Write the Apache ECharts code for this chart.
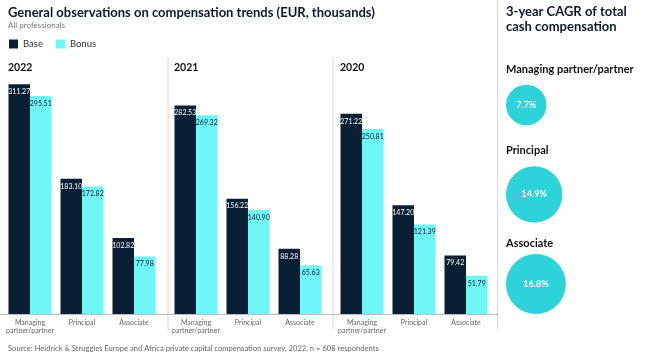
<!DOCTYPE html>
<html><head><meta charset="utf-8">
<script src="https://cdn.jsdelivr.net/npm/echarts@6/dist/echarts.min.js"></script>
<style>html,body{margin:0;padding:0;background:#fff}#c{width:650px;height:359px}</style>
</head><body><div id="c"></div>
<script>
const categories = ['Managing\npartner/partner', 'Principal', 'Associate'];
const years = ['2022', '2021', '2020'];
const base2022 = [311.27, 183.10, 102.82];
const bonus2022 = [295.51, 172.82, 77.98];
const base2021 = [282.53, 156.22, 88.28];
const bonus2021 = [269.32, 140.90, 65.63];
const base2020 = [271.22, 147.20, 79.42];
const bonus2020 = [250.81, 121.39, 51.79];
const cagrRoles = ['Managing partner/partner', 'Principal', 'Associate'];
const cagrValues = [7.7, 14.9, 16.8];

const baseSets = [base2022, base2021, base2020];
const bonusSets = [bonus2022, bonus2021, bonus2020];
const NAVY = '#0a1f33', CYAN = '#6ff6f6', TEAL = '#2dd3d9';
const FONT = 'Lato, "Open Sans", sans-serif';
const gridLefts = [4, 170, 336];

const grids = [], xAxes = [], yAxes = [], series = [];
years.forEach((y, i) => {
  grids.push({left: gridLefts[i], width: 156, top: 55.7, bottom: 45});
  xAxes.push({type: 'category', gridIndex: i, data: categories,
    axisLine: {show: false}, axisTick: {show: false},
    axisLabel: {fontSize: 7, color: '#666', fontFamily: FONT, lineHeight: 7.5, margin: 5, interval: 0}});
  yAxes.push({type: 'value', gridIndex: i, min: 0, max: 350, show: false, splitLine: {show: false}});
  series.push({type: 'bar', name: 'Base', xAxisIndex: i, yAxisIndex: i, data: baseSets[i],
    barWidth: 21.5, barGap: '0%', itemStyle: {color: NAVY},
    label: {show: true, position: 'insideTop', distance: 4, fontSize: 7, color: '#fff', fontFamily: FONT,
      formatter: p => p.value.toFixed(2)}});
  series.push({type: 'bar', name: 'Bonus', xAxisIndex: i, yAxisIndex: i, data: bonusSets[i],
    barWidth: 21.5, barGap: '0%', itemStyle: {color: CYAN},
    label: {show: true, position: 'insideTop', distance: 4, fontSize: 7, color: NAVY, fontFamily: FONT,
      formatter: p => p.value.toFixed(2)}});
});

// CAGR bubbles (area proportional)
grids.push({left: 506, width: 120, top: 60.25, bottom: 30.25});
xAxes.push({type: 'value', gridIndex: 3, min: 0, max: 100, show: false});
yAxes.push({type: 'category', gridIndex: 3, data: cagrRoles, inverse: true, show: false});
series.push({type: 'scatter', xAxisIndex: 3, yAxisIndex: 3, silent: true,
  data: cagrValues.map((v, i) => {
    const s = 2 * 7.3 * Math.sqrt(v);
    return {value: [0, i], cagr: v, symbolSize: s, symbolOffset: [s / 2, 0]};
  }),
  itemStyle: {color: TEAL, opacity: 1},
  label: {show: true, position: 'inside', color: '#fff', fontWeight: 'bold', fontSize: 9, fontFamily: FONT,
    formatter: p => p.data.cagr.toFixed(1) + '%'}
});

const graphic = [];
[168, 333].forEach(x => graphic.push({type: 'line', shape: {x1: x, y1: 58, x2: x, y2: 330}, style: {stroke: '#d6d6d6', lineWidth: 1}}));
graphic.push({type: 'line', shape: {x1: 497.5, y1: 0, x2: 497.5, y2: 329}, style: {stroke: '#d6d6d6', lineWidth: 1}});
graphic.push({type: 'line', shape: {x1: 0, y1: 314.5, x2: 498, y2: 314.5}, style: {stroke: '#bdbdbd', lineWidth: 1}, z: 10});
years.forEach((y, i) => graphic.push({type: 'text', left: gridLefts[i] + 4, top: 62,
  style: {text: y, font: 'bold 10.5px ' + FONT, fill: '#111'}}));
const headY = [64, 145, 238];
cagrRoles.forEach((r, i) => graphic.push({type: 'text', left: 506, top: headY[i],
  style: {text: r, font: 'bold 11px ' + FONT, fill: '#111'}}));
graphic.push({type: 'text', left: 506, top: 4,
  style: {text: '3-year CAGR of total\ncash compensation', font: 'bold 13px ' + FONT, fill: '#0b1a2a', lineHeight: 15}});
graphic.push({type: 'text', left: 8, top: 345,
  style: {text: 'Source: Heidrick & Struggles Europe and Africa private capital compensation survey, 2022, n = 608 respondents', font: '7.6px ' + FONT, fill: '#666'}});

const chart = echarts.init(document.getElementById('c'), null, {renderer: 'canvas'});
chart.setOption({
  animation: false,
  title: [{text: 'General observations on compensation trends (EUR, thousands)', left: 3, top: 1,
    textStyle: {fontSize: 13, fontWeight: 'bold', color: '#0b1a2a', fontFamily: FONT},
    subtext: 'All professionals', itemGap: 2,
    subtextStyle: {fontSize: 8, color: '#777', fontFamily: FONT}}],
  legend: {data: ['Base', 'Bonus'], left: 4, top: 34, icon: 'rect', itemWidth: 9, itemHeight: 9, itemGap: 13,
    textStyle: {fontSize: 9.5, color: '#333', fontFamily: FONT}, selectedMode: false},
  grid: grids, xAxis: xAxes, yAxis: yAxes, series: series, graphic: graphic
});
</script></body></html>
